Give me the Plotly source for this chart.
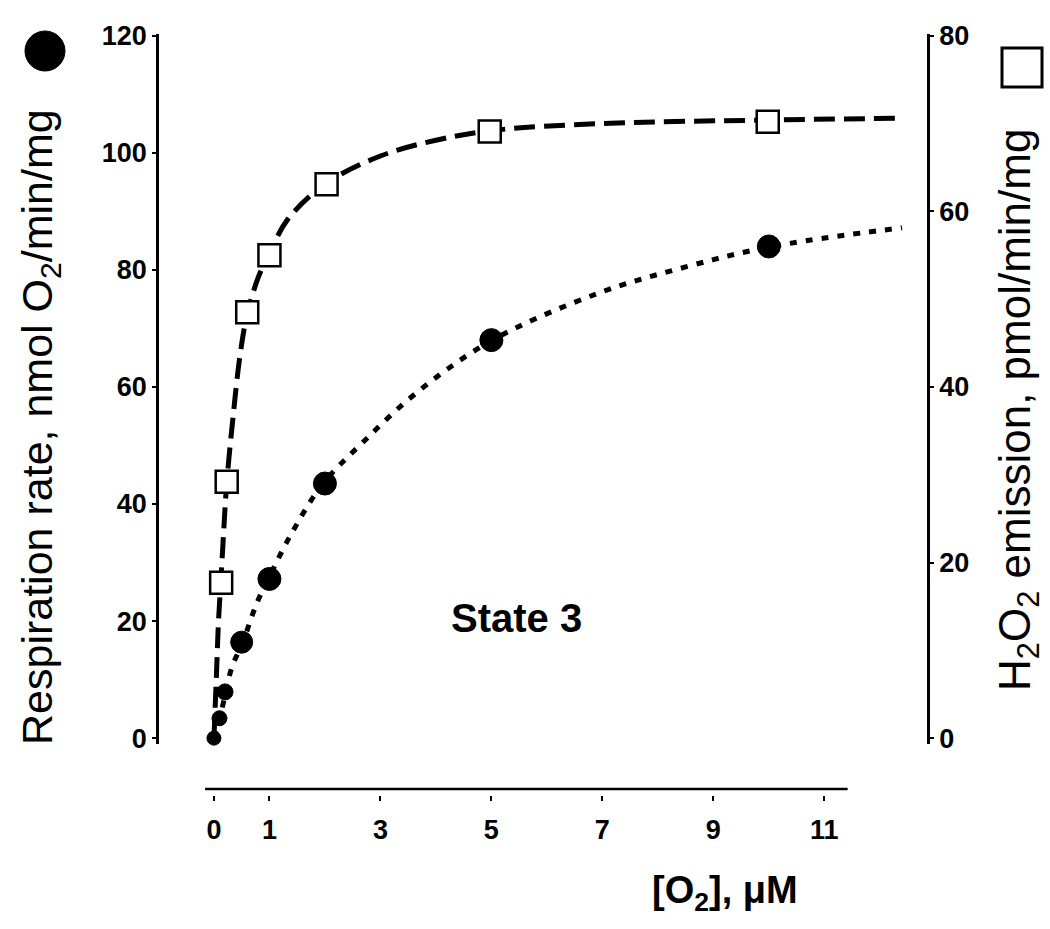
import plotly.graph_objects as go

# ---- data ----
o2_resp = [0, 0.1, 0.2, 0.5, 1.0, 2.0, 5.0, 10.0]
resp_rate = [0, 3.4, 7.9, 16.4, 27.2, 43.5, 68.0, 84.0]
resp_size = [14, 15, 16, 22, 23, 23, 23, 23]

o2_h2o2 = [0.13, 0.23, 0.6, 1.0, 2.03, 4.97, 9.98]
h2o2_rate = [17.7, 29.2, 48.5, 55.0, 63.1, 69.1, 70.2]

# fitted curves, points
fit_resp_x = [0, 0.1, 0.2, 0.32, 0.52, 0.77, 0.97, 1.4, 1.96, 2.69, 3.65, 5.0, 6.95, 8.5, 10.0, 12.4]
fit_resp_y = [0, 3.4, 7.2, 12.0, 16.4, 23.0, 27.0, 35.0, 43.4, 50.6, 59.0, 67.9, 76.1, 80.5, 83.9, 87.2]

fit_h2o2_x = [0, 0.05, 0.08, 0.13, 0.18, 0.23, 0.34, 0.47, 0.6, 0.8, 1.0, 1.32, 2.0, 3.0, 4.0, 5.0, 7.0, 10.0, 12.4]
fit_h2o2_y = [0, 8.0, 13.0, 18.5, 24.0, 29.0, 36.3, 43.6, 48.3, 52.5, 55.2, 59.0, 63.1, 66.3, 68.1, 69.2, 70.0, 70.4, 70.6]

x_ticks = [0, 1, 3, 5, 7, 9, 11]
left_ticks = [0, 20, 40, 60, 80, 100, 120]
right_ticks = [0, 20, 40, 60, 80]

FONT = "Liberation Sans, Arial, sans-serif"

fig = go.Figure()

fig.add_trace(go.Scatter(
    x=fit_resp_x, y=fit_resp_y, mode="lines", line_shape="spline",
    line=dict(color="black", width=5, dash="7px,9px"),
    showlegend=False, hoverinfo="skip", yaxis="y"))

fig.add_trace(go.Scatter(
    x=fit_h2o2_x, y=fit_h2o2_y, mode="lines", line_shape="spline",
    line=dict(color="black", width=5, dash="21px,9px"),
    showlegend=False, hoverinfo="skip", yaxis="y2"))

fig.add_trace(go.Scatter(
    x=o2_resp, y=resp_rate, mode="markers", cliponaxis=False,
    marker=dict(symbol="circle", size=resp_size, color="black", opacity=1,
                line=dict(color="black", width=1)),
    showlegend=False, yaxis="y"))

fig.add_trace(go.Scatter(
    x=o2_h2o2, y=h2o2_rate, mode="markers", cliponaxis=False,
    marker=dict(symbol="square", size=22, color="white", opacity=1,
                line=dict(color="black", width=2.5)),
    showlegend=False, yaxis="y2"))

W, H = 1050, 929
ml, mr, mt, mb = 159, 123, 34, 134
pw = W - ml - mr
ph = H - mt - mb


def px(xp):
    return (xp - ml) / pw


def py(yp):
    return (H - mb - yp) / ph


tickfont = dict(family=FONT, size=27, color="black", weight="bold")

fig.update_layout(
    width=W, height=H,
    margin=dict(l=ml, r=mr, t=mt, b=mb, autoexpand=False),
    paper_bgcolor="white", plot_bgcolor="white",
    font=dict(family=FONT, color="black"),
    xaxis=dict(range=[-0.99, 12.85], anchor="free", position=0,
               showline=False, showgrid=False, zeroline=False,
               ticks="outside", ticklen=5, tickwidth=2, tickcolor="black",
               ticklabelstandoff=6,
               tickvals=x_ticks, tickfont=tickfont),
    yaxis=dict(range=[-1, 120.3], domain=[py(744), 1], anchor="x",
               showline=True, linewidth=2.5, linecolor="black",
               showgrid=False, zeroline=False,
               ticks="outside", ticklen=4, tickwidth=2, tickcolor="black",
               tickvals=left_ticks, tickfont=tickfont),
    yaxis2=dict(range=[-0.667, 80.2], overlaying="y", side="right", anchor="x",
                showline=True, linewidth=2.5, linecolor="black",
                showgrid=False, zeroline=False,
                ticks="outside", ticklen=4, tickwidth=2, tickcolor="black",
                tickvals=right_ticks, tickfont=tickfont),
)

# detached x-axis line
fig.add_shape(type="line", xref="x", yref="paper",
              x0=-0.16, x1=11.42, y0=py(789), y1=py(789),
              line=dict(color="black", width=2.5))

# legend-like symbols next to axis titles
fig.add_shape(type="circle", xref="paper", yref="paper",
              x0=px(25), x1=px(65), y0=py(71), y1=py(31),
              fillcolor="black", line=dict(color="black", width=1))
fig.add_shape(type="rect", xref="paper", yref="paper",
              x0=px(1002), x1=px(1042), y0=py(87), y1=py(48),
              fillcolor="white", line=dict(color="black", width=3))

fig.add_annotation(text="Respiration rate, nmol O<sub>2</sub>/min/mg",
                   xref="paper", yref="paper", x=px(40), y=py(427),
                   xanchor="center", yanchor="middle", textangle=-90,
                   showarrow=False, font=dict(family=FONT, size=43, color="black"))
fig.add_annotation(text="H<sub>2</sub>O<sub>2</sub> emission, pmol/min/mg",
                   xref="paper", yref="paper", x=px(1018), y=py(410),
                   xanchor="center", yanchor="middle", textangle=-90,
                   showarrow=False, font=dict(family=FONT, size=44, color="black"))
fig.add_annotation(text="[O<sub>2</sub>], μM",
                   xref="paper", yref="paper", x=px(725), y=py(893),
                   xanchor="center", yanchor="middle",
                   showarrow=False, font=dict(family=FONT, size=38, color="black", weight="bold"))
fig.add_annotation(text="State 3",
                   xref="paper", yref="paper", x=px(516), y=py(618),
                   xanchor="center", yanchor="middle",
                   showarrow=False, font=dict(family=FONT, size=40, color="black", weight="bold"))

fig.write_html("out.html", config={"displayModeBar": False},
               post_script="document.body.style.margin='0px';")
